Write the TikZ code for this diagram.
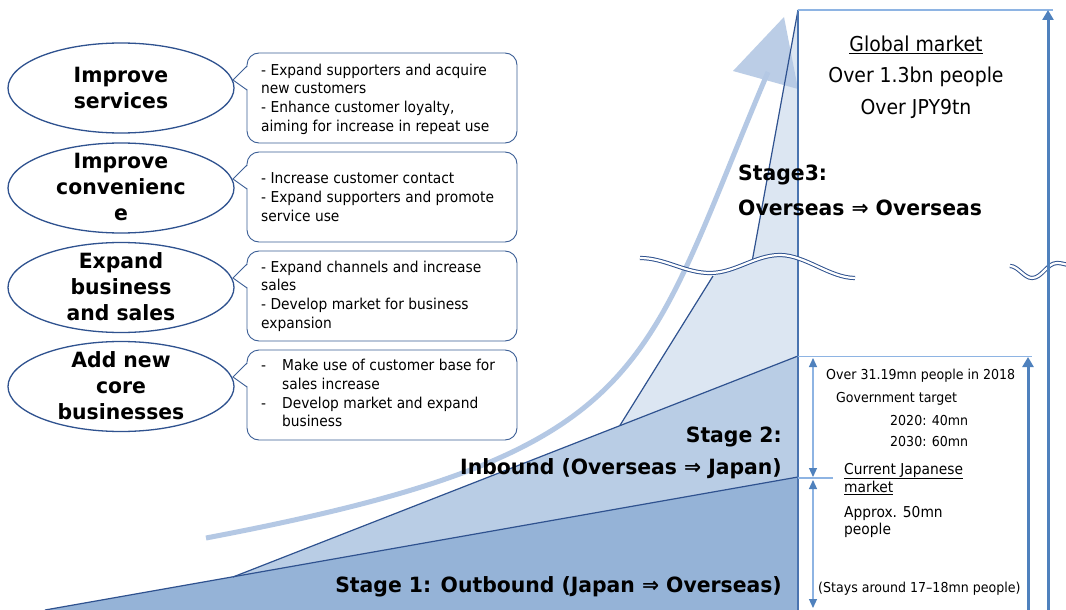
\documentclass[tikz,border=0pt]{standalone}
\usepackage{fontspec}
\setmainfont{DejaVu Sans}[UprightFeatures={FakeStretch=0.92},BoldFeatures={FakeStretch=0.97}]
\usetikzlibrary{arrows.meta,shapes.geometric}
\definecolor{sone}{HTML}{95B3D7}
\definecolor{stwo}{HTML}{B9CDE5}
\definecolor{sthree}{HTML}{DCE6F2}
\definecolor{edgec}{HTML}{2F528F}
\definecolor{boxc}{HTML}{4A74B0}
\definecolor{lightc}{HTML}{8EB4E3}
\definecolor{arrc}{HTML}{4F81BD}
\definecolor{curvec}{HTML}{B4C8E4}
\definecolor{cboxc}{HTML}{3B5E96}
\begin{document}
\begin{tikzpicture}[x=1pt,y=-1pt,
  ell/.style={draw=edgec, line width=1.3pt, ellipse, minimum width=226pt, minimum height=90pt, inner sep=0pt, outer sep=0pt, fill=white},
  etext/.style={align=center, inner sep=0pt, font=\bfseries\fontsize{21}{26}\selectfont},
  cbox/.style={draw=cboxc, line width=0.9pt, rounded corners=12pt, minimum width=270pt, minimum height=90pt, inner sep=0pt, outer sep=0pt, fill=white},
  ctext/.style={align=left, inner sep=0pt, anchor=west, font=\fontsize{15}{18.7}\selectfont},
  cline/.style={draw=cboxc, line width=0.9pt},
  edgeline/.style={draw=edgec, line width=1.2pt},
  stagetext/.style={inner sep=0pt, font=\bfseries\fontsize{21}{26}\selectfont},
  rtext/.style={inner sep=0pt, anchor=west, font=\fontsize{13.7}{17}\selectfont},
  rtextb/.style={inner sep=0pt, anchor=west, font=\fontsize{15}{17}\selectfont},
  gtext/.style={inner sep=0pt, font=\fontsize{20.5}{24}\selectfont},
  wave/.style={draw=edgec, line width=1pt, double=white, double distance=2.2pt},
  bigarrow/.style={draw=arrc, line width=3pt, -{Triangle[width=11pt,length=10pt]}},
  dimarrow/.style={draw=lightc, line width=1.2pt, {Triangle[color=arrc,width=8pt,length=9pt]}-{Triangle[color=arrc,width=8pt,length=9pt]}}
]
\useasboundingbox (0,0) rectangle (1066,610);
\fill[white] (0,0) rectangle (1066,610);

% stage fills
\fill[sone] (45,610) -- (798,477) -- (798,610) -- cycle;
\fill[stwo] (233,577) -- (798,356) -- (798,477) -- cycle;
\fill[sthree] (620,425.3) -- (713,276) -- (752,262) -- (798,10) -- (798,356) -- cycle;

% growth curve with arrowhead
\coordinate (cstart) at (206,538);
\coordinate (cend) at (768,72);
\draw[curvec, line width=5pt] (cstart) .. controls (656,452.5) and (639,375.6) .. (cend);
\fill[curvec, opacity=0.9] (784,17) -- (733,71) -- (798,89) -- cycle;

% stage edges
\draw[edgeline] (45,610) -- (798,477);
\draw[edgeline] (233,577) -- (798,356);
\draw[edgeline] (620,425.3) -- (713,276);
\draw[edgeline] (752,262) -- (798,10);

% market box
\coordinate (boxtl) at (798,10);
\coordinate (boxbl) at (798,610);
\coordinate (boxtr) at (1053,10);
\draw[boxc, line width=1.5pt] (boxtl) -- (boxbl);
\draw[lightc, line width=1.5pt] (boxtl) -- (boxtr);
\coordinate (hlA) at (798,356.5);
\coordinate (hlB) at (1032,356.5);
\coordinate (hlC) at (798,478);
\coordinate (hlD) at (833,478);
\draw[lightc, line width=1.2pt] (hlA) -- (hlB);
\draw[lightc, line width=1.2pt] (hlC) -- (hlD);

% waves
\draw[wave] (640,258) .. controls (665,258) and (685,273) .. (710,273) .. controls (735,273) and (755,255) .. (780,255) .. controls (805,255) and (830,278) .. (855,278);
\draw[wave] (1010,266) .. controls (1018,266) and (1024,278) .. (1032,278) .. controls (1042,278) and (1047,263) .. (1057,263) .. controls (1061,263) and (1064,264) .. (1068,265);

% arrows
\coordinate (bigbot) at (1048,612);
\coordinate (bigtop) at (1048,10);
\coordinate (midbot) at (1028,612);
\coordinate (midtop) at (1028,357);
\draw[bigarrow] (bigbot) -- (bigtop);
\draw[bigarrow] (midbot) -- (midtop);
\coordinate (da1) at (813,358);
\coordinate (da2) at (813,477);
\coordinate (da3) at (813,480);
\coordinate (da4) at (813,608);
\draw[dimarrow] (da1) -- (da2);
\draw[dimarrow] (da3) -- (da4);

% ellipses
\node[ell] (e1) at (121,88) {};
\node[ell] (e2) at (121,188) {};
\node[ell] (e3) at (121,287.5) {};
\node[ell] (e4) at (121,386.5) {};
\node[etext] (e1t) at (e1) {Improve\\services};
\node[etext] (e2t) at ([yshift=1pt]e2.center) {Improve\\convenienc\\e};
\node[etext] (e3t) at ([yshift=1pt]e3.center) {Expand\\business\\and sales};
\node[etext] (e4t) at ([yshift=1pt]e4.center) {Add new\\core\\businesses};

% callout boxes
\node[cbox] (b1) at (382,98) {};
\node[cbox] (b2) at (382,197) {};
\node[cbox] (b3) at (382,296) {};
\node[cbox] (b4) at (382,395) {};
\foreach \b in {b1,b2,b3,b4}{
  \fill[white] ([xshift=-14pt,yshift=-27pt]\b.north west) -- ([xshift=1.5pt,yshift=-13pt]\b.north west) -- ([xshift=1.5pt,yshift=-37pt]\b.north west) -- cycle;
  \draw[cline] ([yshift=-13pt]\b.north west) -- ([xshift=-14pt,yshift=-27pt]\b.north west) -- ([yshift=-37pt]\b.north west);
}
\node[ctext] (t1) at (261,99) {- Expand supporters and acquire\\new customers\\- Enhance customer loyalty,\\aiming for increase in repeat use};
\node[ctext] (t2) at (261,197) {- Increase customer contact\\- Expand supporters and promote\\service use};
\node[ctext] (t3) at (261,296) {- Expand channels and increase\\sales\\- Develop market for business\\expansion};
\node[ctext] (t4) at (261,395) {\begin{tabular}{@{}p{21pt}@{}l@{}}-&Make use of customer base for\\&sales increase\\-&Develop market and expand\\&business\end{tabular}};

% stage texts
\node[stagetext, anchor=east] (st1) at (782,587) {Stage 1: Outbound (Japan ⇒ Overseas)};
\node[stagetext, anchor=east] (st2a) at (782,437) {Stage 2:};
\node[stagetext, anchor=east] (st2b) at (782,469) {Inbound (Overseas ⇒ Japan)};
\node[stagetext, anchor=west] (st3a) at (738,175) {Stage3:};
\node[stagetext, anchor=west] (st3b) at (738,208) {Overseas ⇒ Overseas};

% global market
\node[gtext] (g1) at (916,45) {\underline{Global market}};
\node[gtext] (g2) at (916,77) {Over 1.3bn people};
\node[gtext] (g3) at (916,109) {Over JPY9tn};

% right texts
\node[rtext] (r1) at (826,376) {Over 31.19mn people in 2018};
\node[rtext] (r2) at (836,398.5) {Government target};
\node[rtext] (r3) at (890,420.5) {2020: 40mn};
\node[rtext] (r4) at (890,441.5) {2030: 60mn};
\node[rtextb] (r5) at (844,471) {\underline{Current Japanese}};
\node[rtextb] (r6) at (844,488) {\underline{market}};
\node[rtextb] (r7) at (844,513) {Approx. 50mn};
\node[rtextb] (r8) at (844,530) {people};
\node[rtext] (r9) at (818,588.5) {(Stays around 17–18mn people)};
\end{tikzpicture}
\end{document}
